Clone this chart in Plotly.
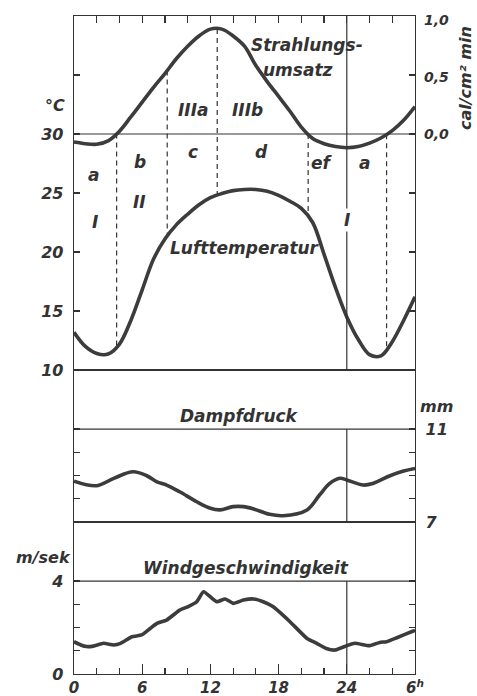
import numpy as np
import plotly.graph_objects as go

# ---------------- data ----------------
hours = list(range(31))
radiation = [-0.07, -0.085, -0.09, -0.06, 0.025, 0.15, 0.28, 0.41, 0.53, 0.66,
             0.77, 0.86, 0.92, 0.92, 0.86, 0.77, 0.60, 0.46, 0.33, 0.20,
             0.06, -0.04, -0.085, -0.11, -0.12, -0.11, -0.08, -0.035, 0.03, 0.12, 0.24]
temperature = [13.2, 12.0, 11.4, 11.35, 12.2, 14.2, 16.8, 19.4, 21.1, 22.3,
               23.2, 24.0, 24.6, 24.95, 25.2, 25.3, 25.3, 25.15, 24.8, 24.3,
               23.7, 22.5, 19.8, 17.0, 14.5, 12.6, 11.3, 11.2, 12.4, 14.2, 16.2]

vapor_hours = [0, 2.0, 3.5, 5.2, 6.4, 7.3, 8.15, 9.3, 10.8, 12.0, 12.85, 14.0, 14.9,
               15.8, 17.2, 18.4, 20.5, 21.6, 22.5, 23.4, 24.0, 25.45, 26.3, 27.8, 29.0, 30.0]
vapor = [8.76, 8.56, 8.88, 9.16, 8.99, 8.73, 8.59, 8.30, 7.87, 7.59, 7.52, 7.66, 7.66,
         7.56, 7.33, 7.27, 7.52, 8.16, 8.66, 8.88, 8.81, 8.59, 8.66, 8.99, 9.19, 9.30]

wind_hours = [0, 0.6, 1.1, 1.7, 2.6, 3.5, 4.1, 5.1, 5.95, 6.7, 7.3, 8.15, 9.3, 10.05,
              10.8, 11.4, 12.55, 13.3, 14.0, 14.9, 15.8, 16.65, 17.5, 19.0, 20.5, 21.35,
              22.2, 22.95, 24.0, 24.7, 26.0, 26.9, 27.5, 28.4, 29.85, 30.0]
wind = [1.39, 1.25, 1.18, 1.20, 1.32, 1.25, 1.32, 1.60, 1.68, 1.96, 2.18, 2.32, 2.75, 2.90,
        3.11, 3.54, 3.11, 3.23, 3.04, 3.18, 3.23, 3.11, 2.90, 2.25, 1.53, 1.32,
        1.10, 1.03, 1.22, 1.32, 1.22, 1.36, 1.39, 1.56, 1.85, 1.88]

phase_bounds = [3.75, 8.2, 12.6, 20.6, 27.5]
x_tickvals = [0, 6, 12, 18, 24, 30]
x_ticktext = ['0', '6', '12', '18', '24', '6<sup>h</sup>']

temp_range = [10, 40]
rad_range = [-2.07, 1.035]
vap_range = [7, 13.54]
wind_range = [0, 6.54]
temp_ref, vap_ref, wind_ref, midnight = 30, 11, 4, 24

# ---------------- styling ----------------
INK = '#333333'
CURVE = '#3c3c3c'
FONT = dict(family='DejaVu Sans', size=16, color=INK, style='italic', weight='bold')
XFONT = dict(family='DejaVu Sans', size=15, color=INK, style='italic', weight='bold')
RFONT = dict(family='DejaVu Sans', size=14, color=INK, style='italic', weight='bold')
LBL = dict(family='DejaVu Sans', size=17, color=INK, style='italic', weight='bold')
W, H = 477, 696
xdom = [74 / W, 415 / W]
dom_top = [1 - 370 / H, 1 - 16 / H]
dom_mid = [1 - 522 / H, 1 - 370 / H]
dom_bot = [1 - 674 / H, 1 - 522 / H]

fig = go.Figure()
line = dict(color=CURVE, width=3.6, shape='spline', smoothing=1)
fig.add_trace(go.Scatter(x=wind_hours, y=wind, mode='lines', xaxis='x', yaxis='y',
                         line=dict(color=CURVE, width=3.6, shape='spline', smoothing=0.5)))
fig.add_trace(go.Scatter(x=vapor_hours, y=vapor, mode='lines', xaxis='x2', yaxis='y2', line=line))
fig.add_trace(go.Scatter(x=hours, y=temperature, mode='lines', xaxis='x3', yaxis='y3', line=line))
fig.add_trace(go.Scatter(x=hours, y=radiation, mode='lines', xaxis='x3', yaxis='y4', line=line))

shapes = []
frame = dict(color=INK, width=1.2)
# reference lines
shapes.append(dict(type='line', xref='x3 domain', yref='y3', x0=0, x1=1, y0=temp_ref, y1=temp_ref, line=frame))
shapes.append(dict(type='line', xref='x2 domain', yref='y2', x0=0, x1=1, y0=vap_ref, y1=vap_ref, line=frame))
shapes.append(dict(type='line', xref='x domain', yref='y', x0=0, x1=1, y0=wind_ref, y1=wind_ref, line=frame))
# midnight lines
shapes.append(dict(type='line', xref='x3', yref='y3 domain', x0=midnight, x1=midnight, y0=0, y1=1, line=frame))
shapes.append(dict(type='line', xref='x2', yref='y2', x0=midnight, x1=midnight, y0=vap_range[0], y1=vap_ref, line=frame))
shapes.append(dict(type='line', xref='x', yref='y', x0=midnight, x1=midnight, y0=wind_range[0], y1=wind_ref, line=frame))
# phase boundaries (from radiation curve down to temperature curve)
for b in phase_bounds:
    r_top = float(np.interp(b, hours, radiation))
    t_bot = float(np.interp(b, hours, temperature))
    frac = (t_bot - temp_range[0]) / (temp_range[1] - temp_range[0])
    r_bot = rad_range[0] + frac * (rad_range[1] - rad_range[0])
    shapes.append(dict(type='line', xref='x3', yref='y4', x0=b, x1=b, y0=r_top, y1=r_bot,
                       line=dict(color=INK, width=1.2, dash='5px,4px'), layer='below'))

ann = []
def T(text, x, y, xref, yref, font=LBL, **kw):
    ann.append(dict(text=text, x=x, y=y, xref=xref, yref=yref, showarrow=False, font=font,
                    xanchor='center', yanchor='middle', **kw))

# phase labels (temperature coordinates)
for txt, hx, ty in [('a', 1.7, 26.5), ('b', 5.8, 27.6), ('c', 10.5, 28.5), ('d', 16.5, 28.5),
                    ('ef', 21.8, 27.5), ('a', 25.6, 27.5), ('I', 1.85, 22.5), ('II', 5.8, 24.2),
                    ('IIIa', 10.5, 32.0), ('IIIb', 15.3, 32.0)]:
    T(txt, hx, ty, 'x3', 'y3')
T('I', 24, 22.7, 'x3', 'y3', bgcolor='white')
T('Lufttemperatur', 15.05, 20.3, 'x3', 'y3')
T('Strahlungs-', 20.5, 0.78, 'x3', 'y4')
T('umsatz', 19.7, 0.56, 'x3', 'y4')
T('Dampfdruck', 14.6, 11.56, 'x2', 'y2')
T('Windgeschwindigkeit', 15.1, 4.56, 'x', 'y')
# unit labels (paper)
T('°C', 55 / W, 1 - 105 / H, 'paper', 'paper', font=FONT)
T('cal/cm² min', 466 / W, 1 - 78 / H, 'paper', 'paper', font=FONT, textangle=-90)
T('mm', 436 / W, 1 - 406 / H, 'paper', 'paper', font=FONT)
T('m/sek', 43 / W, 1 - 557 / H, 'paper', 'paper', font=FONT)

xcommon = dict(domain=xdom, range=[0, 30], showline=True, linecolor=INK, linewidth=1.3,
               mirror=True, showgrid=False, zeroline=False, fixedrange=True, automargin=False)
ycommon = dict(showline=True, linecolor=INK, linewidth=1.3, mirror='ticks', showgrid=False,
               zeroline=False, ticks='inside', ticklen=6, tickcolor=INK, tickwidth=1.2,
               tickfont=FONT, ticklabelstandoff=6, automargin=False, fixedrange=True)
def minor(vals):
    return dict(tickmode='array', tickvals=vals, ticks='inside', ticklen=6, tickcolor=INK,
                tickwidth=1.2, showgrid=False)

fig.update_layout(
    width=W, height=H, margin=dict(l=0, r=0, t=0, b=0, pad=0, autoexpand=False),
    paper_bgcolor='white', plot_bgcolor='white', showlegend=False,
    xaxis=dict(**xcommon, anchor='y', ticks='inside', tickvals=x_tickvals, ticktext=x_ticktext,
               ticklen=10, tickcolor=INK, tickwidth=1.2, tickfont=XFONT, ticklabelstandoff=0,
               minor=dict(dtick=2, tick0=0, ticks='inside', ticklen=6, tickcolor=INK, tickwidth=1.2)),
    xaxis2=dict(**xcommon, anchor='y2', ticks='', showticklabels=False),
    xaxis3=dict(**xcommon, anchor='y3', side='top', ticks='inside', tickvals=list(range(0, 31, 2)),
                ticklen=7, tickcolor=INK, tickwidth=1.2, showticklabels=False),
    yaxis=dict(**ycommon, domain=dom_bot, range=wind_range, anchor='x',
               tickvals=[0, 4], ticktext=['0', '4'], minor=minor([1, 2, 3])),
    yaxis2=dict(**ycommon, domain=dom_mid, range=vap_range, anchor='x2', side='right',
                tickvals=[7, 11], ticktext=['7', '11'], minor=minor([8, 9, 10])),
    yaxis3=dict(**ycommon, domain=dom_top, range=temp_range, anchor='x3',
                tickvals=[10, 15, 20, 25, 30], ticktext=['10', '15', '20', '25', '30'],
                minor=minor([35])),
    yaxis4=dict(overlaying='y3', side='right', anchor='x3', range=rad_range, showline=False,
                showgrid=False, zeroline=False, ticks='', tickvals=[0, 0.5, 1.0],
                ticktext=['0,0', '0,5', '1,0'], tickfont=RFONT, ticklabelstandoff=8,
                automargin=False, fixedrange=True),
    shapes=shapes, annotations=ann,
)

fig.write_html('out.html', config={'displayModeBar': False, 'staticPlot': True},
               post_script="document.body.style.margin='0';document.body.style.padding='0';"
                           "document.body.style.overflow='hidden';")
